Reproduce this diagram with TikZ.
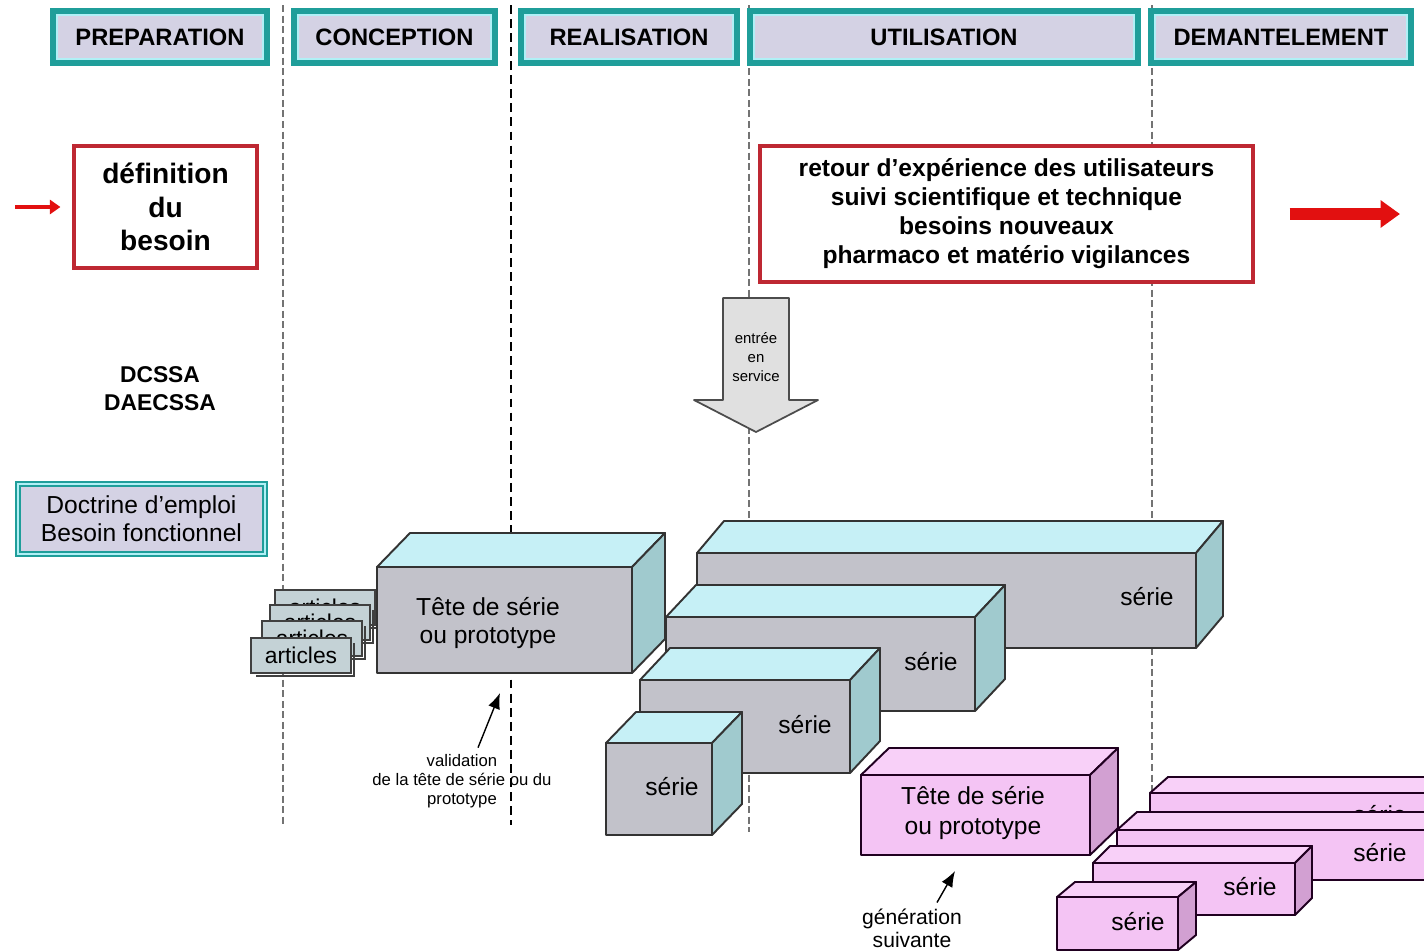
\documentclass[tikz,border=0pt]{standalone}
\usepackage{fontspec}
\setmainfont{Liberation Sans}
\usetikzlibrary{arrows.meta}
\definecolor{sarcelle}{RGB}{31,158,154}
\definecolor{lavande}{RGB}{212,210,228}
\definecolor{cyanclair}{RGB}{176,240,246}
\definecolor{rougebord}{RGB}{190,40,50}
\definecolor{rougevif}{RGB}{226,16,16}
\definecolor{grisface}{RGB}{194,194,202}
\definecolor{grisdessus}{RGB}{198,240,246}
\definecolor{griscote}{RGB}{160,202,206}
\definecolor{grisfiche}{RGB}{196,210,214}
\definecolor{roseface}{RGB}{244,196,244}
\definecolor{rosedessus}{RGB}{248,208,248}
\definecolor{rosecote}{RGB}{210,160,210}
\tikzset{
  phasebox/.style={draw=sarcelle, line width=3pt, fill=lavande, inner sep=0pt, outer sep=0pt,
    minimum height=1.04cm, font=\bfseries\fontsize{13.5}{15}\selectfont,
    path picture={\draw[cyanclair, line width=6pt] (path picture bounding box.south west) rectangle (path picture bounding box.north east);}},
  rougebox/.style={draw=rougebord, line width=1.8pt, fill=white, inner sep=0pt, align=center},
  doctrinebox/.style={draw=sarcelle, double=cyanclair, double distance=1.6pt, line width=0.9pt, fill=lavande,
    minimum width=4.94cm, minimum height=1.4cm, align=center, font=\fontsize{14}{16}\selectfont},
  separateur/.style={draw=black!55, line width=0.8pt, dash pattern=on 4pt off 2pt},
  grisbord/.style={draw=black!80, line width=1.1pt, line join=round},
  rosebord/.style={draw=black!75!violet, line width=1.1pt, line join=round},
  texteboite/.style={font=\fontsize{14}{16}\selectfont, align=center},
  ombre/.style={draw=black!75, line width=1.2pt},
}
\def\phase(#1,#2,#3,#4){
  \node[phasebox, minimum width=#3*0.02cm-#2*0.02cm, anchor=north west] (#1) at (#2,11) {#4};
}
\def\fiche(#1,#2,#3){
  \node[draw=black!75, line width=0.8pt, fill=grisfiche, minimum width=2cm, minimum height=0.7cm, inner sep=0pt, outer sep=0pt, anchor=north west, font=\fontsize{13}{14}\selectfont] (#1) at (#2,#3) {articles};
  \draw[ombre] ([shift={(5,3)}]#1.south west) -- ([shift={(3,3)}]#1.south east) -- ([shift={(3,5)}]#1.north east);
}
\def\boite(#1,#2,#3,#4,#5,#6,#7,#8){
  \node[#8bord, fill=#8face, minimum width=#4*0.02cm, minimum height=#5*0.02cm, inner sep=0pt, outer sep=0pt, anchor=north west] (#1) at (#2,#3) {};
  \draw[#8bord, fill=#8dessus] (#1.north west) -- ++(#6,-#7) -- ++(#4,0) -- (#1.north east) -- cycle;
  \draw[#8bord, fill=#8cote] (#1.north east) -- ++(#6,-#7) -- ++(0,#5) -- (#1.south east) -- cycle;
}
\begin{document}
\begin{tikzpicture}[x=0.02cm, y=-0.02cm]
\useasboundingbox (0,0) rectangle (1424,951);
\clip (0,0) rectangle (1424,951);
\draw[separateur] (283,5) -- (283,825);
\draw[separateur, draw=black, line width=1.3pt, dash pattern=on 5pt off 3pt] (511,5) -- (511,825);
\draw[separateur] (749,5) -- (749,832);
\draw[separateur] (1152,5) -- (1152,850);
\phase(preparation,53,267,PREPARATION)
\phase(conception,294,495,CONCEPTION)
\phase(realisation,521,737,REALISATION)
\phase(utilisation,750,1138,UTILISATION)
\phase(demantelement,1151,1411,DEMANTELEMENT)
\node[rougebox, minimum width=3.66cm, minimum height=2.44cm, font=\bfseries\fontsize{16}{19}\selectfont] (besoin) at (165.5,207) {définition\\du\\besoin};
\node[rougebox, minimum width=9.86cm, minimum height=2.72cm, font=\bfseries\fontsize{14}{16.5}\selectfont] (retour) at (1006.5,214) {retour d'expérience des utilisateurs\\suivi scientifique et technique\\besoins nouveaux\\pharmaco et matério vigilances};
\coordinate (debut) at (15,207);
\draw[rougevif, line width=2.8pt, -{Triangle[length=6pt,width=8pt]}] (debut) -- ([xshift=-0.24cm]besoin.west);
\coordinate (fin) at (1400,214);
\draw[rougevif, line width=6.8pt, -{Triangle[length=11pt,width=15pt]}] ([xshift=0.7cm]retour.east) -- (fin);
\filldraw[fill=black!12, draw=black!70, line width=1pt, line join=round] (723,298) -- (789,298) -- (789,400) -- (818,400) -- (756,432) -- (694,400) -- (723,400) -- cycle;
\node[font=\fontsize{8.5}{10.8}\selectfont, align=center] (service) at (756,357) {entrée\\en\\service};
\node[font=\bfseries\fontsize{13}{16}\selectfont, align=center] (dcssa) at (160,389) {DCSSA\\DAECSSA};
\node[doctrinebox] (doctrine) at (141.5,519) {Doctrine d'emploi\\Besoin fonctionnel};
\fiche(article1,275,590)
\fiche(article2,270,605)
\fiche(article3,262,621)
\fiche(article4,251,638)
\boite(tete,377,567,255,106,33,34,gris)
\node[texteboite] (tetetexte) at (488,623) {Tête de série\\ou prototype};
\boite(serie1,697,553,499,95,27,32,gris)
\node[texteboite] (serietexte1) at (1147,597) {série};
\boite(serie2,666,617,309,94,30,32,gris)
\node[texteboite] (serietexte2) at (931,662) {série};
\boite(serie3,640,680,210,93,30,32,gris)
\node[texteboite] (serietexte3) at (805,725) {série};
\boite(serie4,606,743,106,92,30,31,gris)
\node[texteboite] (serietexte4) at (672,787) {série};
\boite(teterose,861,775,229,80,28,27,rose)
\node[texteboite, font=\fontsize{14}{17.6}\selectfont] (teterosetexte) at (973,813) {Tête de série\\ou prototype};
\boite(rose1,1150,793,330,60,18,16,rose)
\node[texteboite] (rosetexte1) at (1380,815) {série};
\boite(rose2,1117,830,330,50,20,18,rose)
\node[texteboite] (rosetexte2) at (1380,853) {série};
\boite(rose3,1093,863,202,52,17,17,rose)
\node[texteboite] (rosetexte3) at (1250,887) {série};
\boite(rose4,1057,897,121,53,18,15,rose)
\node[texteboite] (rosetexte4) at (1138,922) {série};
\node[font=\fontsize{9.5}{11}\selectfont, align=center] (validation) at (462,781) {validation\\de la tête de série ou du\\prototype};
\coordinate (cible) at (500,693);
\draw[line width=0.8pt, -{Latex[length=9pt,width=7pt]}] ([xshift=0.32cm]validation.north) -- (cible);
\node[font=\fontsize{12}{13}\selectfont, align=center] (generation) at (912,928) {génération\\suivante};
\coordinate (suivante) at (955,871);
\draw[line width=0.8pt, -{Latex[length=9pt,width=7pt]}] ([xshift=0.5cm]generation.north) -- (suivante);
\end{tikzpicture}
\end{document}
